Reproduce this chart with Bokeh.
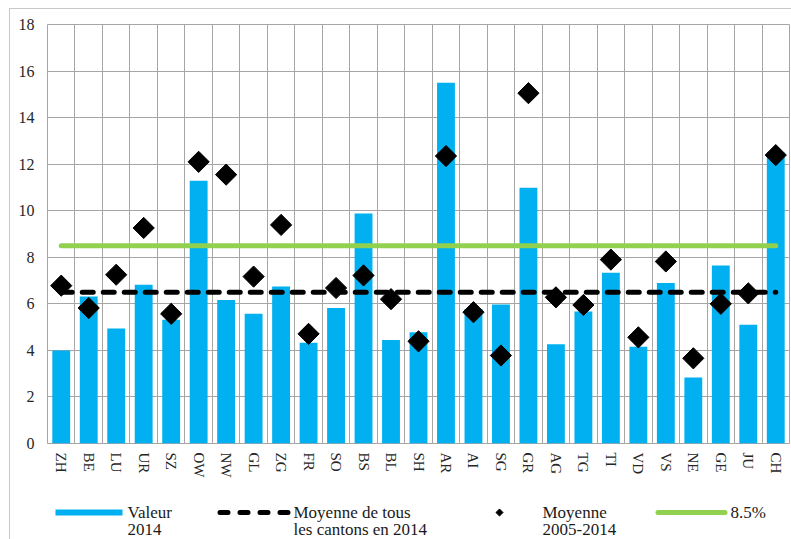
import numpy as np
from bokeh.plotting import figure
from bokeh.layouts import column
from bokeh.models import Range1d, FixedTicker, ColumnDataSource
from bokeh.core.properties import value
from bokeh.embed import file_html
from bokeh.resources import INLINE

# ---------------- data ----------------
cantons = ["ZH", "BE", "LU", "UR", "SZ", "OW", "NW", "GL", "ZG", "FR", "SO", "BS", "BL", "SH",
           "AR", "AI", "SG", "GR", "AG", "TG", "TI", "VD", "VS", "NE", "GE", "JU", "CH"]
valeur_2014 = [4.0, 6.32, 4.94, 6.82, 5.32, 11.29, 6.17, 5.57, 6.74, 4.33, 5.82, 9.88, 4.45, 4.78,
               15.5, 5.78, 5.97, 10.99, 4.26, 5.67, 7.33, 4.16, 6.9, 2.83, 7.65, 5.1, 12.5]
moyenne_2005_2014 = [6.78, 5.82, 7.25, 9.26, 5.57, 12.1, 11.55, 7.17, 9.39, 4.71, 6.68, 7.22, 6.2, 4.39,
                     12.35, 5.64, 3.78, 15.05, 6.28, 5.95, 7.9, 4.56, 7.82, 3.66, 6.0, 6.45, 12.39]
moyenne_cantons_2014 = 6.5
seuil = 8.5
y_ticks = [0, 2, 4, 6, 8, 10, 12, 14, 16, 18]
legend_line1 = ["Valeur", "Moyenne de tous", "Moyenne", "8.5%"]
legend_line2 = ["2014", "les cantons en 2014", "2005-2014", ""]

BLUE = "#00B0F0"
GREEN = "#92D050"
GRID = "#a6a6a6"
FONT = "Liberation Serif"

OY = 9          # page y of the figures (inside the outer border)
W = 781
H = 472
n = len(cantons)
xs = np.arange(n) + 0.5
src = ColumnDataSource(dict(x=xs, cat=cantons, val=valeur_2014, moy=moyenne_2005_2014))

# ---------------- main chart ----------------
p = figure(width=W, height=H, x_range=Range1d(0, n), y_range=Range1d(0, 18), title=None,
           output_backend="svg", toolbar_location=None,
           min_border_left=37, min_border_right=2, min_border_top=15, min_border_bottom=38)
p.outline_line_color = GRID
p.background_fill_color = "white"
p.border_fill_color = "white"

p.xgrid.ticker = FixedTicker(ticks=list(range(n + 1)))
p.ygrid.ticker = FixedTicker(ticks=y_ticks)
p.xgrid.grid_line_color = GRID
p.ygrid.grid_line_color = GRID

p.yaxis.ticker = FixedTicker(ticks=y_ticks)
p.yaxis.axis_line_color = None
p.yaxis.major_tick_line_color = None
p.yaxis.minor_tick_line_color = None
p.yaxis.major_tick_out = 0
p.yaxis.major_tick_in = 0
p.yaxis.minor_tick_out = 0
p.yaxis.major_label_standoff = 13
p.yaxis.major_label_text_font = FONT
p.yaxis.major_label_text_font_size = "16px"
p.yaxis.major_label_text_color = "#262626"

p.xaxis.ticker = FixedTicker(ticks=list(xs))
p.xaxis.major_label_overrides = {float(x): c for x, c in zip(xs, cantons)}
p.xaxis.major_label_orientation = "vertical"
p.xaxis.axis_line_color = None
p.xaxis.major_tick_line_color = None
p.xaxis.minor_tick_line_color = None
p.xaxis.major_tick_out = 0
p.xaxis.major_tick_in = 0
p.xaxis.minor_tick_out = 0
p.xaxis.major_label_standoff = 9
p.xaxis.major_label_text_font = FONT
p.xaxis.major_label_text_font_size = "15px"
p.xaxis.major_label_text_color = "#262626"

p.vbar(x="x", top="val", width=0.65, source=src, fill_color=BLUE, line_color=None)

p.line(x=[xs[0], xs[-1]], y=[moyenne_cantons_2014] * 2, line_color="black", line_width=5,
       line_dash="11 10", line_cap="round")
p.line(x=[xs[0], xs[-1]], y=[seuil] * 2, line_color=GREEN, line_width=5, line_cap="round")

p.scatter(x="x", y="moy", source=src, marker="square", size=15, angle=np.pi / 4,
          fill_color="black", line_color="black")

# ---------------- legend strip (page pixel coordinates; frame aligned with main frame) ----------------
TOP = OY + H
LH = 539 - TOP
q = figure(width=W, height=LH, x_range=Range1d(47, 789), y_range=Range1d(539, TOP), title=None,
           output_backend="svg", toolbar_location=None, x_axis_type=None, y_axis_type=None,
           min_border_left=37, min_border_right=2, min_border_top=0, min_border_bottom=0)
q.outline_line_color = None
q.grid.visible = False
q.background_fill_color = "white"
q.border_fill_color = "white"

sym_y = 512
q.line(x=[55, 122], y=[sym_y, sym_y], line_color=BLUE, line_width=6)
q.line(x=[219.5, 289.5], y=[sym_y, sym_y], line_color="black", line_width=5,
       line_dash="8 12", line_cap="round")
q.scatter(x=[499], y=[sym_y], marker="square", size=5, angle=np.pi / 4,
          fill_color="black", line_color="black")
q.line(x=[657.5, 724.5], y=[sym_y, sym_y], line_color=GREEN, line_width=5, line_cap="round")

text_x = [127, 293, 542, 730]
q.text(x=text_x, y=[512] * 4, text=legend_line1, text_font=value(FONT), text_font_size="17px",
       text_color="#1a1a1a", text_baseline="alphabetic", text_align="left")
q.text(x=text_x, y=[529] * 4, text=legend_line2, text_font=value(FONT), text_font_size="17px",
       text_color="#1a1a1a", text_baseline="alphabetic", text_align="left")

layout = column(p, q, styles={"margin-left": "9px", "margin-top": "8px",
                              "border-left": "1px solid #c8c8c8",
                              "border-top": "1px solid #c8c8c8"})

open("out.html", "w").write(file_html(layout, INLINE))
